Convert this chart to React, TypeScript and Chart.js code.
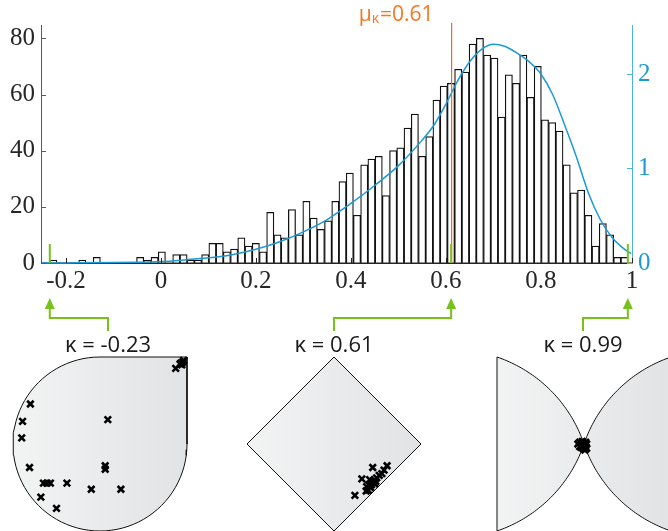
import React, { useEffect, useRef } from 'react';
import { Chart, registerables } from 'chart.js';

Chart.register(...registerables);

// ---------------- data ----------------
const binStart = -0.234;
const binWidth = 0.01522;
const binCounts = [
  1, 0, 0, 0, 1, 0, 2, 0, 0, 0,
  0, 0, 2, 1, 2, 4, 0, 3, 3, 1,
  1, 3, 7, 7, 4, 5, 9, 6, 7, 4,
  18, 10, 9, 19, 10, 22, 16, 12, 15, 22,
  29, 32, 17, 35, 37, 38, 24, 40, 41, 48,
  53, 38, 45, 58, 63, 64, 69, 68, 78, 80,
  74, 73, 52, 67, 64, 74, 59, 70, 51, 50,
  47, 35, 25, 26, 17, 6, 14, 10, 2, 2,
];

const densityX = [-0.25, -0.2, -0.1, -0.05, 0, 0.05, 0.1, 0.15, 0.2, 0.25, 0.3, 0.35, 0.4, 0.45, 0.5, 0.55, 0.575, 0.6, 0.625, 0.65, 0.675, 0.7, 0.725, 0.75, 0.775, 0.8, 0.825, 0.85, 0.875, 0.9, 0.925, 0.95, 0.975, 0.99];
const densityY = [0, 0.001, 0.004, 0.008, 0.015, 0.033, 0.055, 0.088, 0.145, 0.225, 0.33, 0.46, 0.63, 0.82, 1.03, 1.3, 1.46, 1.68, 1.93, 2.13, 2.26, 2.315, 2.29, 2.22, 2.13, 2.0, 1.78, 1.46, 1.12, 0.74, 0.46, 0.27, 0.15, 0.1];

const xMin = -0.2525;
const xMax = 0.9918;
const xTickValues = [-0.2, 0, 0.2, 0.4, 0.6, 0.8, 0.9918];
const xTickLabels = ['-0.2', '0', '0.2', '0.4', '0.6', '0.8', '1'];
const leftMax = 84.75;
const leftTicks = [0, 20, 40, 60, 80];
const rightMax = 2.518;
const rightTicks = [0, 1, 2];

const meanKappa = 0.612;
const meanLabel = '0.61';
const exampleKappas = [-0.234, 0.611, 0.983];
const exampleLabels = ['-0.23', '0.61', '0.99'];

// sample points shown in the three bottom panels (normalised panel coordinates)
const panel1Points = [
  { x: 0.87, y: 0.87 }, { x: 0.93, y: 0.93 }, { x: 0.95, y: 0.94 }, { x: 0.94, y: 0.91 }, { x: 0.92, y: 0.92 }, { x: 0.96, y: 0.96 },
  { x: -0.8, y: 0.46 }, { x: -0.89, y: 0.26 }, { x: -0.9, y: 0.07 }, { x: 0.09, y: 0.28 },
  { x: -0.81, y: -0.27 }, { x: 0.06, y: -0.25 }, { x: 0.06, y: -0.29 },
  { x: -0.65, y: -0.45 }, { x: -0.61, y: -0.45 }, { x: -0.57, y: -0.45 }, { x: -0.38, y: -0.45 },
  { x: -0.1, y: -0.52 }, { x: 0.24, y: -0.52 }, { x: -0.68, y: -0.61 }, { x: -0.5, y: -0.74 },
];
const panel2Points = [
  { x: 0.445, y: -0.27 }, { x: 0.61, y: -0.25 }, { x: 0.575, y: -0.3 }, { x: 0.52, y: -0.36 }, { x: 0.55, y: -0.34 },
  { x: 0.32, y: -0.4 }, { x: 0.41, y: -0.41 }, { x: 0.45, y: -0.43 }, { x: 0.43, y: -0.47 }, { x: 0.375, y: -0.49 },
  { x: 0.47, y: -0.46 }, { x: 0.49, y: -0.39 }, { x: 0.395, y: -0.53 }, { x: 0.37, y: -0.54 }, { x: 0.24, y: -0.59 },
  { x: 0.44, y: -0.44 }, { x: 0.4, y: -0.47 }, { x: 0.46, y: -0.42 }, { x: 0.42, y: -0.5 }, { x: 0.48, y: -0.43 },
];
const panel3Points = [
  { x: -0.07, y: 0.0 }, { x: -0.05, y: 0.02 }, { x: -0.02, y: -0.01 }, { x: 0.0, y: 0.01 }, { x: 0.02, y: -0.03 },
  { x: 0.03, y: 0.0 }, { x: -0.01, y: -0.05 }, { x: 0.01, y: -0.07 }, { x: -0.03, y: -0.04 }, { x: 0.02, y: 0.02 },
  { x: -0.05, y: -0.03 }, { x: 0.0, y: -0.03 }, { x: 0.03, y: -0.05 }, { x: -0.02, y: 0.03 }, { x: 0.01, y: -0.01 },
];

// ---------------- layout constants ----------------
const W = 668;
const MAIN_H = 360;
const PLOT_LEFT = 41;
const PLOT_RIGHT = 632;
const PLOT_TOP = 25;
const PLOT_BOTTOM = 263;
const panelCenters = [100, 334, 584];
const connectorTargets = [108, 334, 583];
const PANEL_HALF = 87;
const PANEL_TOP = 357;

const COLORS = {
  axis: '#262626',
  axisGrey: '#5a5a5a',
  blue: '#1b9ad6',
  blueAxis: '#4db3e0',
  orange: '#f26a21',
  orangeText: '#f7761f',
  green: '#76c21b',
};

// ---------------- shape geometry ----------------
type P = { x: number; y: number };
function arc(cx: number, cy: number, r: number, a0: number, a1: number, n = 48) {
  const pts: P[] = [];
  for (let i = 0; i <= n; i++) {
    const a = a0 + ((a1 - a0) * i) / n;
    pts.push({ x: cx + r * Math.cos(a), y: cy + r * Math.sin(a) });
  }
  return pts;
}
function arcBetween(c: P, p0: P, p1: P, n = 48) {
  const r = Math.hypot(p0.x - c.x, p0.y - c.y);
  const a0 = Math.atan2(p0.y - c.y, p0.x - c.x);
  let a1 = Math.atan2(p1.y - c.y, p1.x - c.x);
  while (a1 - a0 > Math.PI) a1 -= 2 * Math.PI;
  while (a1 - a0 < -Math.PI) a1 += 2 * Math.PI;
  return arc(c.x, c.y, r, a0, a1, n);
}

const shape1 = [{ x: 0, y: 1 }, { x: 1, y: 1 }, ...arc(0, 0, 1, 0, -1.5 * Math.PI, 72)];
const shape2 = [{ x: 0, y: 1 }, { x: 1, y: 0 }, { x: 0, y: -1 }, { x: -1, y: 0 }, { x: 0, y: 1 }];
const lobeC = { x: 1.516, y: 0.516 };
const O = { x: 0, y: 0 };
const shape3a = [
  ...arcBetween({ x: -lobeC.x, y: -lobeC.y }, { x: -1, y: 1 }, O),
  ...arcBetween({ x: -lobeC.x, y: lobeC.y }, O, { x: -1, y: -1 }),
  { x: -1, y: 1 },
];
const shape3b = [
  ...arcBetween({ x: lobeC.x, y: -lobeC.y }, { x: 1, y: 1 }, O),
  ...arcBetween({ x: lobeC.x, y: lobeC.y }, O, { x: 1, y: -1 }),
  { x: 1, y: 1 },
];

// ---------------- main chart ----------------
const overlayPlugin = {
  id: 'overlay',
  afterDatasetDraw(chart: any, args: any) {
    if (args.index !== 0) return;
    const { ctx, chartArea: ca } = chart;
    ctx.save();
    ctx.strokeStyle = COLORS.axis;
    ctx.lineWidth = 1.4;
    ctx.beginPath();
    ctx.moveTo(ca.left, ca.bottom + 0.2);
    ctx.lineTo(ca.right, ca.bottom + 0.2);
    ctx.stroke();
    ctx.restore();
  },
  afterDatasetsDraw(chart: any) {
    const { ctx, chartArea: ca, scales } = chart;
    const x = scales.x;
    const y = scales.y;
    const y2 = scales.y2;
    ctx.save();
    ctx.lineWidth = 1;

    // inward tick marks
    ctx.strokeStyle = COLORS.axisGrey;
    leftTicks.forEach((v) => {
      const py = Math.round(y.getPixelForValue(v)) + 0.5;
      ctx.beginPath(); ctx.moveTo(ca.left, py); ctx.lineTo(ca.left + 5, py); ctx.stroke();
    });
    ctx.strokeStyle = COLORS.axis;
    xTickValues.forEach((v) => {
      const px = Math.round(x.getPixelForValue(v)) + 0.5;
      ctx.beginPath(); ctx.moveTo(px, ca.bottom); ctx.lineTo(px, ca.bottom - 5); ctx.stroke();
    });
    ctx.strokeStyle = COLORS.blueAxis;
    rightTicks.forEach((v) => {
      const py = Math.round(y2.getPixelForValue(v)) + 0.5;
      ctx.beginPath(); ctx.moveTo(ca.right, py); ctx.lineTo(ca.right - 5, py); ctx.stroke();
    });

    // mean line
    const mx = x.getPixelForValue(meanKappa);
    ctx.strokeStyle = COLORS.orange;
    ctx.lineWidth = 1.2;
    ctx.beginPath(); ctx.moveTo(mx, ca.top - 2); ctx.lineTo(mx, ca.bottom); ctx.stroke();

    // mean label  μκ=0.61
    const big = '21px "Open Sans"';
    const small = '14px "Open Sans"';
    ctx.fillStyle = COLORS.orangeText;
    ctx.textBaseline = 'alphabetic';
    ctx.textAlign = 'left';
    ctx.font = big;
    const wMu = ctx.measureText('μ').width;
    const rest = '=' + meanLabel;
    const wRest = ctx.measureText(rest).width;
    ctx.font = small;
    const wK = ctx.measureText('κ').width;
    let tx = mx - 18 - (wMu + wK + 1 + wRest);
    const base = 21;
    ctx.font = big; ctx.fillText('μ', tx, base); tx += wMu;
    ctx.font = small; ctx.fillText('κ', tx, base + 2); tx += wK + 1;
    ctx.font = big; ctx.fillText(rest, tx, base);

    // green markers and connectors
    ctx.strokeStyle = COLORS.green;
    ctx.fillStyle = COLORS.green;
    ctx.lineWidth = 2;
    exampleKappas.forEach((k, i) => {
      const px = x.getPixelForValue(k);
      ctx.beginPath(); ctx.moveTo(px, ca.bottom); ctx.lineTo(px, ca.bottom - 19); ctx.stroke();
      const tip = 298;
      const headBase = 309;
      const elbow = 318;
      const end = 331;
      const tgt = connectorTargets[i];
      ctx.beginPath();
      ctx.moveTo(px, tip); ctx.lineTo(px - 5, headBase); ctx.lineTo(px + 5, headBase); ctx.closePath(); ctx.fill();
      ctx.beginPath();
      ctx.moveTo(px, headBase); ctx.lineTo(px, elbow); ctx.lineTo(tgt, elbow); ctx.lineTo(tgt, end); ctx.stroke();
    });

    // panel titles
    ctx.fillStyle = '#1a1a1a';
    ctx.font = '22px "Open Sans"';
    ctx.textAlign = 'center';
    exampleLabels.forEach((lab, i) => {
      ctx.fillText('κ = ' + lab, connectorTargets[i], 352);
    });
    ctx.restore();
  },
};

function mainConfig(): any {
  const barData = binCounts.map((c, i) => ({ x: binStart + (i + 0.5) * binWidth, y: c }));
  const lineData = densityX.map((v, i) => ({ x: v, y: densityY[i] }));
  const tickFont = { family: '"Liberation Serif", serif', size: 25 };
  return {
    type: 'bar',
    data: {
      datasets: [
        {
          type: 'bar',
          data: barData,
          xAxisID: 'x',
          yAxisID: 'y',
          backgroundColor: '#ffffff',
          borderColor: '#111111',
          borderWidth: 1.25,
          barPercentage: 1,
          categoryPercentage: 1,
          grouped: false,
          order: 1,
        },
        {
          type: 'line',
          data: lineData,
          xAxisID: 'x',
          yAxisID: 'y2',
          borderColor: COLORS.blue,
          borderWidth: 1.5,
          pointRadius: 0,
          fill: false,
          cubicInterpolationMode: 'monotone',
          clip: 4,
          order: 0,
        },
      ],
    },
    options: {
      animation: false,
      responsive: false,
      maintainAspectRatio: false,
      layout: { autoPadding: false, padding: { top: PLOT_TOP, left: 0, right: 0, bottom: 0 } },
      plugins: { legend: { display: false }, tooltip: { enabled: false }, title: { display: false } },
      scales: {
        x: {
          type: 'linear',
          position: 'bottom',
          min: xMin,
          max: xMax,
          offset: false,
          afterBuildTicks: (s: any) => { s.ticks = xTickValues.map((v) => ({ value: v })); },
          afterFit: (s: any) => { s.height = MAIN_H - PLOT_BOTTOM; },
          grid: { display: false, drawTicks: false },
          border: { display: false },
          ticks: {
            autoSkip: false,
            maxRotation: 0,
            minRotation: 0,
            padding: 3,
            color: COLORS.axis,
            font: tickFont,
            callback: (_v: any, i: number) => xTickLabels[i],
          },
        },
        y: {
          type: 'linear',
          position: 'left',
          min: 0,
          max: leftMax,
          afterBuildTicks: (s: any) => { s.ticks = leftTicks.map((v) => ({ value: v })); },
          afterFit: (s: any) => { s.width = PLOT_LEFT; },
          grid: { display: false, drawTicks: false },
          border: { display: true, color: COLORS.axisGrey, width: 1 },
          ticks: { padding: 6, color: COLORS.axis, font: tickFont, callback: (v: any) => String(v) },
        },
        y2: {
          type: 'linear',
          position: 'right',
          min: 0,
          max: rightMax,
          afterBuildTicks: (s: any) => { s.ticks = rightTicks.map((v) => ({ value: v })); },
          afterFit: (s: any) => { s.width = W - PLOT_RIGHT; },
          grid: { display: false, drawTicks: false },
          border: { display: true, color: COLORS.blueAxis, width: 1 },
          ticks: { padding: 6, color: COLORS.blue, font: tickFont, callback: (v: any) => String(v) },
        },
      },
    },
    plugins: [overlayPlugin],
  };
}

// ---------------- panels ----------------
function panelGradient(ctx: any) {
  const chart = ctx.chart;
  const ca = chart.chartArea;
  if (!ca) return '#ebebec';
  const g = chart.ctx.createLinearGradient(ca.left, 0, ca.right, 0);
  g.addColorStop(0, '#f2f3f3');
  g.addColorStop(1, '#e2e3e5');
  return g;
}

function panelConfig(shapes: P[][], points: P[]): any {
  return {
    type: 'scatter',
    data: {
      datasets: [
        ...shapes.map((s) => ({
          type: 'line',
          data: s,
          borderColor: '#111111',
          borderWidth: 1,
          backgroundColor: panelGradient,
          fill: 'shape',
          pointRadius: 0,
          tension: 0,
          clip: false,
          order: 2,
        })),
        {
          type: 'scatter',
          data: points,
          pointStyle: 'crossRot',
          pointRadius: 4.6,
          borderWidth: 2.6,
          borderColor: '#000000',
          backgroundColor: '#000000',
          clip: false,
          order: 0,
        },
      ],
    },
    options: {
      animation: false,
      responsive: false,
      maintainAspectRatio: false,
      layout: { autoPadding: false, padding: 2 },
      plugins: { legend: { display: false }, tooltip: { enabled: false } },
      scales: {
        x: { type: 'linear', min: -1, max: 1, display: false },
        y: { type: 'linear', min: -1, max: 1, display: false },
      },
    },
  };
}

export default function App() {
  const mainRef = useRef<HTMLCanvasElement>(null);
  const p1 = useRef<HTMLCanvasElement>(null);
  const p2 = useRef<HTMLCanvasElement>(null);
  const p3 = useRef<HTMLCanvasElement>(null);

  useEffect(() => {
    const charts: Chart[] = [];
    if (mainRef.current) charts.push(new Chart(mainRef.current, mainConfig()));
    if (p1.current) charts.push(new Chart(p1.current, panelConfig([shape1], panel1Points)));
    if (p2.current) charts.push(new Chart(p2.current, panelConfig([shape2], panel2Points)));
    if (p3.current) charts.push(new Chart(p3.current, panelConfig([shape3a, shape3b], panel3Points)));
    return () => charts.forEach((c) => c.destroy());
  }, []);

  const size = PANEL_HALF * 2 + 4;
  const panelStyle = (cx: number): React.CSSProperties => ({
    position: 'absolute',
    left: cx - PANEL_HALF - 2,
    top: PANEL_TOP - 2,
    width: size,
    height: size,
  });

  return (
    <div style={{ position: 'fixed', left: 0, top: 0, width: W, height: 531, overflow: 'hidden', background: '#ffffff' }}>
      <canvas ref={mainRef} width={W} height={MAIN_H} style={{ position: 'absolute', left: 0, top: 0, width: W, height: MAIN_H }} />
      <canvas ref={p1} width={size} height={size} style={panelStyle(panelCenters[0])} />
      <canvas ref={p2} width={size} height={size} style={panelStyle(panelCenters[1])} />
      <canvas ref={p3} width={size} height={size} style={panelStyle(panelCenters[2])} />
    </div>
  );
}
